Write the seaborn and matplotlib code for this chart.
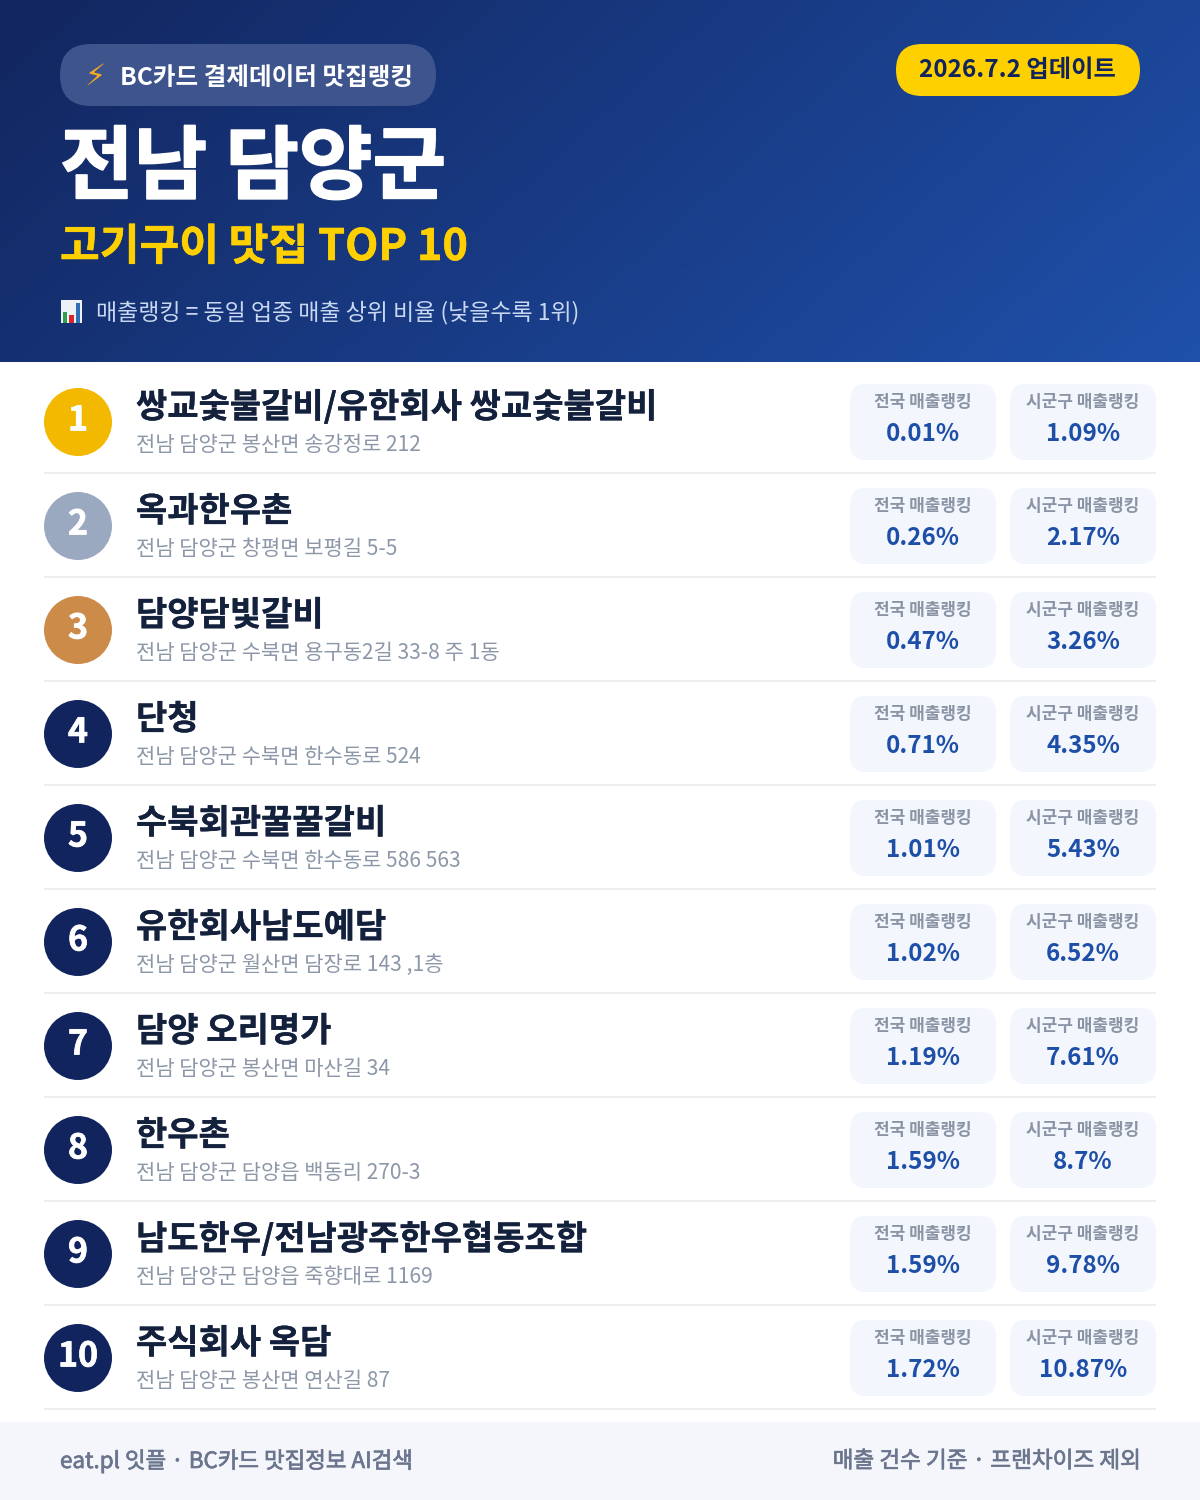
#!/usr/bin/env python

# Modules
import matplotlib
matplotlib.use('Agg')
import matplotlib.pyplot as plt
import matplotlib.patheffects as pe
from matplotlib.colors import LinearSegmentedColormap
from matplotlib.patches import FancyBboxPatch, Rectangle
import numpy as np
import pandas as pd
import seaborn as sns

# Data
ranks = [1, 2, 3, 4, 5, 6, 7, 8, 9, 10]
names = ['쌍교숯불갈비/유한회사 쌍교숯불갈비', '옥과한우촌', '담양담빛갈비', '단청', '수북회관꿀꿀갈비',
         '유한회사남도예담', '담양 오리명가', '한우촌', '남도한우/전남광주한우협동조합', '주식회사 옥담']
addresses = ['전남 담양군 봉산면 송강정로 212', '전남 담양군 창평면 보평길 5-5', '전남 담양군 수북면 용구동2길 33-8 주 1동',
             '전남 담양군 수북면 한수동로 524', '전남 담양군 수북면 한수동로 586 563', '전남 담양군 월산면 담장로 143 ,1층',
             '전남 담양군 봉산면 마산길 34', '전남 담양군 담양읍 백동리 270-3', '전남 담양군 담양읍 죽향대로 1169',
             '전남 담양군 봉산면 연산길 87']
national = ['0.01%', '0.26%', '0.47%', '0.71%', '1.01%', '1.02%', '1.19%', '1.59%', '1.59%', '1.72%']
local = ['1.09%', '2.17%', '3.26%', '4.35%', '5.43%', '6.52%', '7.61%', '8.7%', '9.78%', '10.87%']

# Colors
NAVY = '#12245e'
BLUE = '#1e4fa8'
YELLOW = '#ffd000'
CARD = '#f3f6fd'
RANK_COLORS = {1: '#f3b900', 2: '#9aa8c0', 3: '#cd8b4a'}

# Layout in pixels
ROW_TOP = 422
ROW_H = 104

plt.rcParams['font.family'] = ['Noto Sans CJK KR', 'DejaVu Sans']


def px(size):
    '''Pixel size to points at dpi 100.'''
    return size * 0.72


def pill(ax, x0, y0, x1, y1, radius, **kwargs):
    box = FancyBboxPatch((x0 + radius, y0 + radius), x1 - x0 - 2 * radius, y1 - y0 - 2 * radius,
                         boxstyle=f'round,pad={radius},rounding_size={radius}', linewidth=0, **kwargs)
    ax.add_patch(box)


def thick(color, width):
    return [pe.withStroke(linewidth=width, foreground=color)]


def draw_header(ax):
    # diagonal gradient
    grid_x, grid_y = np.meshgrid(np.linspace(0, 1, 300), np.linspace(0, 1, 100))
    cmap = LinearSegmentedColormap.from_list('header', ['#12265f', '#1f50aa'])
    ax.imshow(grid_x * 0.75 + grid_y * 0.25, cmap=cmap, extent=(0, 1200, 362, 0), aspect='auto', zorder=0)

    pill(ax, 60, 44, 436, 106, 31, facecolor='#3e548d', zorder=1)
    ax.text(95, 76, '⚡', color='#f5a623', fontsize=px(30), ha='center', va='center', zorder=2)
    ax.text(120, 78, 'BC카드 결제데이터 맛집랭킹', color='white', fontsize=px(24.6), fontweight='bold',
            va='center', zorder=2)

    pill(ax, 896, 44, 1140, 96, 26, facecolor=YELLOW, zorder=1)
    ax.text(1017, 70, '2026.7.2 업데이트', color=NAVY, fontsize=px(24.3), fontweight='bold',
            ha='center', va='center', zorder=2)

    ax.text(60, 169, '전남 담양군', color='white', fontsize=px(80), fontweight='black', va='center', zorder=2,
            path_effects=thick('white', 1.2))
    ax.text(60, 247, '고기구이 맛집 TOP 10', color=YELLOW, fontsize=px(43.2), fontweight='bold', va='center', zorder=2,
            path_effects=thick(YELLOW, 0.4))

    # little bar chart icon
    ax.add_patch(Rectangle((61, 300), 21, 23, facecolor='#eef2f7', linewidth=0, zorder=2))
    ax.add_patch(Rectangle((63, 312), 4, 11, facecolor='#2e9e4f', linewidth=0, zorder=3))
    ax.add_patch(Rectangle((69, 315), 5, 8, facecolor='#d8262c', linewidth=0, zorder=3))
    ax.add_patch(Rectangle((76, 303), 4, 20, facecolor='#2f6fb5', linewidth=0, zorder=3))
    ax.text(96, 313, '매출랭킹 = 동일 업종 매출 상위 비율 (낮을수록 1위)', color='#c9d8f2', fontsize=px(23),
            va='center', zorder=2)


def draw_rows(ax):
    df = pd.DataFrame({'rank': ranks, 'name': names, 'address': addresses, 'national': national, 'local': local})
    df['x'] = 78
    df['y'] = ROW_TOP + (df['rank'] - 1) * ROW_H
    palette = {r: RANK_COLORS.get(r, NAVY) for r in ranks}

    sns.scatterplot(data=df, x='x', y='y', hue='rank', palette=palette, s=px(68) ** 2, linewidth=0,
                    legend=False, ax=ax, zorder=3)

    for row in df.itertuples():
        y = row.y
        ax.text(78, y - 2, str(row.rank), color='white', fontsize=px(34), fontweight='bold',
                ha='center', va='center', zorder=4, path_effects=thick('white', 0.5))
        ax.text(136, y - 15, row.name, color='#14213d', fontsize=px(34), fontweight='bold', va='center', zorder=2,
                path_effects=thick('#14213d', 0.2))
        ax.text(136, y + 23, row.address, color='#8c97a8', fontsize=px(21), va='center', zorder=2)

        for x0, label, value in ((850, '전국 매출랭킹', row.national), (1010, '시군구 매출랭킹', row.local)):
            pill(ax, x0, y - 38, x0 + 146, y + 38, 16, facecolor=CARD, zorder=1)
            ax.text(x0 + 73, y - 20, label, color='#8b94a5', fontsize=px(17), fontweight='bold',
                    ha='center', va='center', zorder=2)
            ax.text(x0 + 73, y + 12, value, color=BLUE, fontsize=px(24.2), fontweight='bold',
                    ha='center', va='center', zorder=2)

        ax.plot([44, 1156], [y + 51, y + 51], color='#edeff3', linewidth=1.5, solid_capstyle='butt', zorder=1)


def draw_footer(ax):
    ax.add_patch(Rectangle((0, 1422), 1200, 78, facecolor='#f4f6fb', linewidth=0, zorder=1))
    ax.text(60, 1461, 'eat.pl 잇플 · BC카드 맛집정보 AI검색', color='#6b768e', fontsize=px(22.4),
            va='center', zorder=2, path_effects=thick('#6b768e', 0.5))
    ax.text(1140, 1461, '매출 건수 기준 · 프랜차이즈 제외', color='#6b768e', fontsize=px(22.6),
            ha='right', va='center', zorder=2, path_effects=thick('#6b768e', 0.5))


# Code
if __name__ == '__main__':
    fig = plt.figure(figsize=(12, 15), dpi=100, facecolor='white')
    ax = fig.add_axes([0, 0, 1, 1])

    draw_header(ax)
    draw_rows(ax)
    draw_footer(ax)

    ax.set_xlim(0, 1200)
    ax.set_ylim(1500, 0)
    ax.axis('off')

    fig.savefig('out.png', dpi=100)
